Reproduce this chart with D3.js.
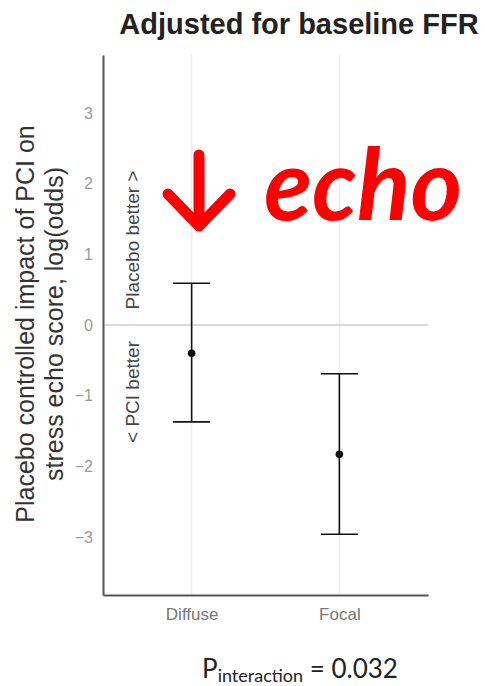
<!DOCTYPE html>
<html>
<head>
<meta charset="utf-8">
<script src="https://cdn.jsdelivr.net/npm/d3@7"></script>
<style>
  html, body { margin: 0; padding: 0; background: #fff; }
  svg { display: block; }
</style>
</head>
<body>
<div id="chart"></div>
<script>
// Subgroups and the PCI effect estimate with its 95% interval, log(odds)
const categories = ["Diffuse", "Focal"];
const estimates = [-0.40, -1.83];
const lowerCI = [-1.37, -2.96];
const upperCI = [0.59, -0.69];
const yTicks = [-3, -2, -1, 0, 1, 2, 3];

const W = 485, H = 686;
const plot = { left: 103, right: 428, top: 55, bottom: 595 };

const svg = d3.select("#chart").append("svg")
  .attr("width", W).attr("height", H);

const x = d3.scalePoint()
  .domain(categories)
  .range([plot.left, plot.right])
  .padding(0.6);

const y = d3.scaleLinear()
  .domain([-3.82, 3.82])
  .range([plot.bottom, plot.top]);

// Title
svg.append("text")
  .attr("x", 299).attr("y", 34)
  .attr("text-anchor", "middle")
  .attr("font-family", "Liberation Sans, Arial, sans-serif")
  .attr("font-weight", "bold")
  .attr("font-size", 29)
  .attr("fill", "#222")
  .text("Adjusted for baseline FFR");

// Vertical gridlines at each subgroup
svg.append("g").selectAll("line")
  .data(categories).join("line")
  .attr("x1", d => x(d)).attr("x2", d => x(d))
  .attr("y1", plot.top).attr("y2", plot.bottom)
  .attr("stroke", "#ececec").attr("stroke-width", 1.5);

// Null-effect reference line
svg.append("line")
  .attr("x1", plot.left).attr("x2", plot.right)
  .attr("y1", y(0)).attr("y2", y(0))
  .attr("stroke", "#b5b5b5").attr("stroke-width", 1.2);

// Y axis
const yAxis = svg.append("g")
  .attr("transform", `translate(${plot.left},0)`)
  .call(d3.axisLeft(y).tickValues(yTicks).tickSize(0).tickPadding(10).tickFormat(d3.format("d")));
yAxis.select(".domain").attr("stroke", "#555").attr("stroke-width", 2);
yAxis.selectAll("text")
  .attr("font-family", "Liberation Sans, Arial, sans-serif")
  .attr("font-size", 16)
  .attr("fill", "#9a9a9a");

// X axis
const xAxis = svg.append("g")
  .attr("transform", `translate(0,${plot.bottom})`)
  .call(d3.axisBottom(x).tickSize(0).tickPadding(10));
xAxis.select(".domain").attr("stroke", "#555").attr("stroke-width", 2);
xAxis.selectAll("text")
  .attr("font-family", "Liberation Sans, Arial, sans-serif")
  .attr("font-size", 17)
  .attr("fill", "#777")
  .attr("dy", "0.9em");

// Y axis title (two lines)
const yTitle = svg.append("text")
  .attr("transform", "translate(0,324) rotate(-90)")
  .attr("text-anchor", "middle")
  .attr("font-family", "Liberation Sans, Arial, sans-serif")
  .attr("font-size", 25)
  .attr("fill", "#333");
yTitle.append("tspan").attr("x", 0).attr("y", 34).text("Placebo controlled impact of PCI on");
yTitle.append("tspan").attr("x", 0).attr("y", 63).text("stress echo score, log(odds)");

// Direction hints beside the axis
const hint = (label, cy) => svg.append("text")
  .attr("transform", `translate(139,${cy}) rotate(-90)`)
  .attr("text-anchor", "middle")
  .attr("font-family", "Liberation Sans, Arial, sans-serif")
  .attr("font-size", 19)
  .attr("fill", "#444")
  .text(label);
hint("Placebo better >", 240);
hint("< PCI better", 392);

// Error bars
const capHalf = 18.5;
const bars = svg.append("g").selectAll("g")
  .data(categories.map((c, i) => ({ c, est: estimates[i], lo: lowerCI[i], hi: upperCI[i] })))
  .join("g");
bars.append("line")
  .attr("x1", d => x(d.c)).attr("x2", d => x(d.c))
  .attr("y1", d => y(d.hi)).attr("y2", d => y(d.lo))
  .attr("stroke", "#111").attr("stroke-width", 1.6);
bars.append("line")
  .attr("x1", d => x(d.c) - capHalf).attr("x2", d => x(d.c) + capHalf)
  .attr("y1", d => y(d.hi)).attr("y2", d => y(d.hi))
  .attr("stroke", "#111").attr("stroke-width", 1.6);
bars.append("line")
  .attr("x1", d => x(d.c) - capHalf).attr("x2", d => x(d.c) + capHalf)
  .attr("y1", d => y(d.lo)).attr("y2", d => y(d.lo))
  .attr("stroke", "#111").attr("stroke-width", 1.6);
bars.append("circle")
  .attr("cx", d => x(d.c)).attr("cy", d => y(d.est))
  .attr("r", 3.8).attr("fill", "#111");

// Red "↓ echo" callout
svg.append("path")
  .attr("d", "M199,155 L199,226 M168,194 L199,226 L230,194")
  .attr("fill", "none")
  .attr("stroke", "#ff0000")
  .attr("stroke-width", 11)
  .attr("stroke-linecap", "round")
  .attr("stroke-linejoin", "round");
svg.append("text")
  .attr("x", 264).attr("y", 220)
  .attr("font-family", "Lato, sans-serif")
  .attr("font-weight", "bold")
  .attr("font-style", "italic")
  .attr("font-size", 99)
  .attr("fill", "#ff0000")
  .text("echo");

// Interaction p-value
const p = svg.append("text")
  .attr("x", 202).attr("y", 678)
  .attr("font-family", "Lato, sans-serif")
  .attr("font-size", 26)
  .attr("fill", "#222");
p.append("tspan").text("P");
p.append("tspan").attr("font-size", 18).attr("dy", 4).text("interaction");
p.append("tspan").attr("dy", -4).text(" = 0.032");
</script>
</body>
</html>
